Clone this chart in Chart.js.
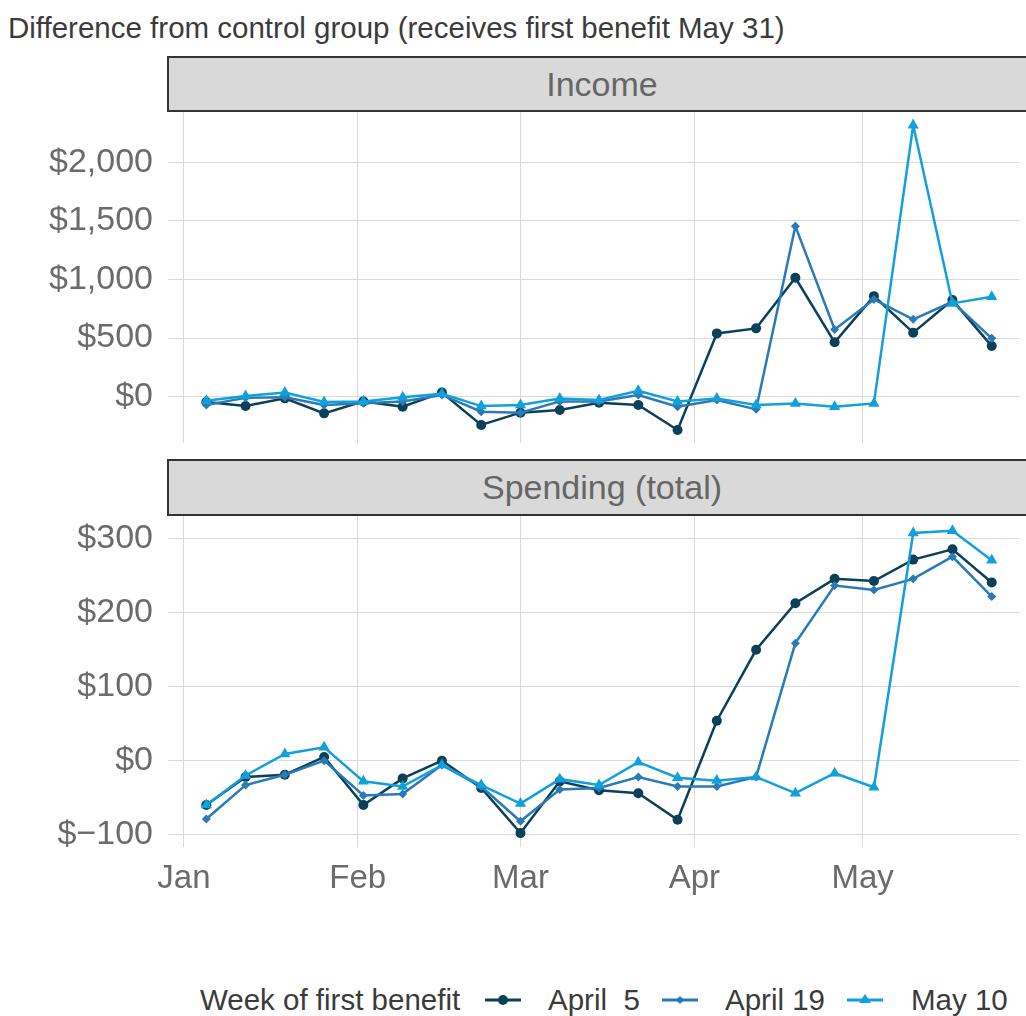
<!DOCTYPE html>
<html>
<head>
<meta charset="utf-8">
<script src="https://cdn.jsdelivr.net/npm/chart.js@4.4.1/dist/chart.umd.min.js"></script>
<style>
  html, body { margin: 0; padding: 0; background: #fff; }
  body { width: 1026px; height: 1016px; position: relative; overflow: hidden; font-family: "Liberation Sans", Arial, sans-serif; }
  .title { position: absolute; left: 8px; top: 13px; font-size: 29.5px; line-height: 29px; color: #3b3b3b; white-space: nowrap; }
  .strip { position: absolute; left: 167px; width: 870px; box-sizing: border-box; background: #d9d9d9; border: 2px solid #333;
           color: #666; font-size: 34px; display: flex; align-items: center; justify-content: center; z-index: 2; }
  .panel { position: absolute; left: 0; width: 1026px; }
  .legend span, .legend svg { position: absolute; white-space: pre; }
  .legend span { top: 984px; font-size: 29.5px; line-height: 32px; color: #3b3b3b; }
  .legend svg { top: 990px; }
</style>
</head>
<body>
<div class="title">Difference from control group (receives first benefit May 31)</div>

<div class="strip" style="top:56px;height:56px;">Income</div>
<div class="panel" style="top:72px;height:411px;"><canvas id="income"></canvas></div>

<div class="strip" style="top:459px;height:57px;">Spending (total)</div>
<div class="panel" style="top:476px;height:428px;"><canvas id="spending"></canvas></div>

<div class="legend" id="legend"></div>

<script>
// 週（各週の開始日）
const weeks = ['2020-01-05', '2020-01-12', '2020-01-19', '2020-01-26', '2020-02-02', '2020-02-09', '2020-02-16',
  '2020-02-23', '2020-03-01', '2020-03-08', '2020-03-15', '2020-03-22', '2020-03-29', '2020-04-05',
  '2020-04-12', '2020-04-19', '2020-04-26', '2020-05-03', '2020-05-10', '2020-05-17', '2020-05-24'];

const groups = ['April  5', 'April 19', 'May 10'];

// 収入の差
const incomeApr5  = [-45, -80, -14, -142, -40, -85, 35, -241, -136, -113, -51, -71, -284, 540, 583, 1015, 464, 858, 546, 824, 432];
const incomeApr19 = [-70, -10, -5, -70, -55, -40, 15, -128, -136, -40, -40, 15, -85, -28, -108, 1455, 574, 830, 660, 810, 498];
const incomeMay10 = [-35, 5, 35, -45, -40, -5, 25, -80, -70, -15, -28, 50, -40, -15, -70, -57, -85, -57, 2316, 796, 852];

// 支出の差
const spendApr5  = [-60, -22, -19, 5, -60, -24, 0, -37, -98, -28, -40, -44, -80, 54, 150, 213, 246, 243, 272, 286, 241];
const spendApr19 = [-79, -33, -19, 0, -47, -45, -6, -35, -82, -39, -37, -22, -35, -35, -22, 159, 237, 231, 246, 276, 222];
const spendMay10 = [-60, -20, 9, 18, -28, -35, -6, -33, -58, -25, -33, -2, -23, -27, -22, -44, -17, -36, 308, 311, 271];

// 目盛り
const monthLabels = ['Jan', 'Feb', 'Mar', 'Apr', 'May'];
const monthStarts = ['2020-01-01', '2020-02-01', '2020-03-01', '2020-04-01', '2020-05-01'];
const incomeTicks = [0, 500, 1000, 1500, 2000];
const spendTicks = [-100, 0, 100, 200, 300];

const colors = ['#0b4158', '#2b7ab8', '#12a0dc'];
const shapes = ['circle', 'rectRot', 'triangle'];
const radii = [5, 4.5, 6.5];

function dayOf(s) {
  return (Date.parse(s + 'T00:00:00Z') - Date.parse('2020-01-01T00:00:00Z')) / 86400000;
}
const monthDays = monthStarts.map(dayOf);

function money(v) {
  return (v < 0 ? '$\u2212' : '$') + Math.abs(v).toLocaleString('en-US');
}

function makePanel(id, seriesList, yMin, yMax, yTicks, showX) {
  const datasets = seriesList.map((vals, i) => ({
    label: groups[i],
    data: vals.map((v, j) => ({ x: dayOf(weeks[j]), y: v })),
    borderColor: colors[i],
    backgroundColor: colors[i],
    borderWidth: 2.5,
    pointStyle: shapes[i],
    pointRadius: radii[i],
    pointBorderWidth: 0,
    tension: 0,
    order: 3 - i
  }));

  return new Chart(document.getElementById(id), {
    type: 'line',
    data: { datasets: datasets },
    options: {
      responsive: true,
      maintainAspectRatio: false,
      animation: false,
      // ラベル分の余白（16 + 20）より大きくしておく
      layout: { padding: { top: 40, bottom: showX ? 5 : 40, left: 0, right: 0 } },
      plugins: { legend: { display: false }, tooltip: { enabled: false } },
      scales: {
        x: {
          type: 'linear',
          min: -2.83,
          max: 148.95,
          afterBuildTicks: function(scale) { scale.ticks = monthDays.map(d => ({ value: d })); },
          afterFit: function(scale) { scale.height = showX ? 52 : 0; },
          grid: { color: '#dadada', lineWidth: 1, drawTicks: false },
          border: { display: false },
          ticks: {
            display: showX,
            autoSkip: false,
            maxRotation: 0,
            padding: 12,
            color: '#6b6b6b',
            font: { family: '"Liberation Sans", Arial, sans-serif', size: 33 },
            callback: function(v, i) { return monthLabels[i]; }
          }
        },
        y: {
          min: yMin,
          max: yMax,
          afterBuildTicks: function(scale) { scale.ticks = yTicks.map(v => ({ value: v })); },
          afterFit: function(scale) { scale.width = 168; },
          grid: { color: '#dadada', lineWidth: 1, drawTicks: false },
          border: { display: false },
          ticks: {
            padding: 15,
            color: '#6b6b6b',
            font: { family: '"Liberation Sans", Arial, sans-serif', size: 34 },
            callback: function(v) { return money(v); }
          }
        }
      }
    }
  });
}

makePanel('income', [incomeApr5, incomeApr19, incomeMay10], -395, 2429, incomeTicks, false);
makePanel('spending', [spendApr5, spendApr19, spendMay10], -116.8, 331, spendTicks, true);

// 凡例
const legend = document.getElementById('legend');
function symbol(i) {
  let m = '';
  if (shapes[i] === 'circle') m = '<circle cx="19" cy="10" r="5" fill="' + colors[i] + '"/>';
  if (shapes[i] === 'rectRot') m = '<polygon points="19,6 23,10 19,14 15,10" fill="' + colors[i] + '"/>';
  if (shapes[i] === 'triangle') m = '<polygon points="19,4 25,13 13,13" fill="' + colors[i] + '"/>';
  return '<line x1="1" y1="10" x2="37" y2="10" stroke="' + colors[i] + '" stroke-width="3"/>' + m;
}
const textLeft = [548, 725, 911];
const symLeft = [484, 661, 846];
let html = '<span style="left:200px">Week of first benefit</span>';
groups.forEach((g, i) => {
  html += '<svg width="38" height="20" style="left:' + symLeft[i] + 'px">' + symbol(i) + '</svg>';
  html += '<span style="left:' + textLeft[i] + 'px">' + g + '</span>';
});
legend.innerHTML = html;
</script>
</body>
</html>
